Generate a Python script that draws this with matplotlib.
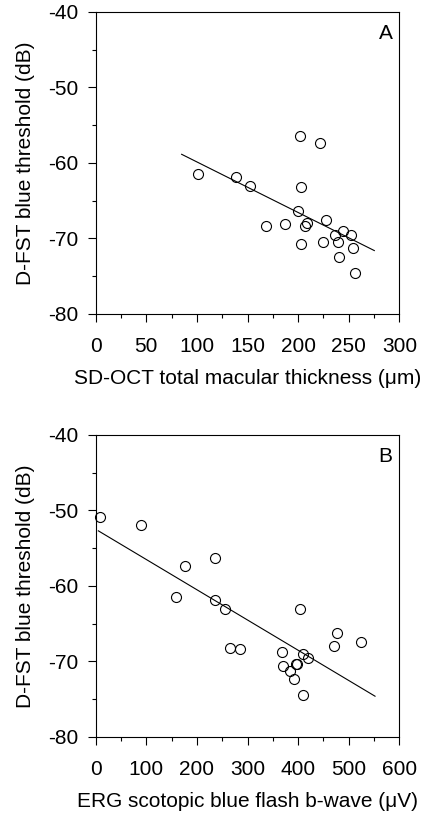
import matplotlib
matplotlib.use("Agg")
import matplotlib.pyplot as plt
from matplotlib.ticker import MultipleLocator

plt.rcParams['font.family'] = ['Liberation Sans', 'DejaVu Sans']
plt.rcParams['axes.unicode_minus'] = False

# Panel A data: SD-OCT total macular thickness vs D-FST blue threshold
a_x = [101.4, 138.6, 152.8, 201.5, 221.6, 202.5, 199.9, 168.0, 186.7, 208.8,
       206.8, 227.9, 236.8, 244.0, 252.3, 202.5, 224.9, 239.7, 254.6, 240.7, 256.5]
a_y = [-61.5, -61.9, -63.1, -56.4, -57.4, -63.2, -66.3, -68.3, -68.1, -68.0,
       -68.4, -67.5, -69.5, -69.0, -69.5, -70.7, -70.4, -70.5, -71.3, -72.4, -74.6]
a_fit_x = [84.9, 275.3]
a_fit_y = [-58.85, -71.6]

# Panel B data: ERG scotopic blue flash b-wave vs D-FST blue threshold
b_x = [9.1, 89.5, 176.5, 235.8, 158.7, 235.2, 256.1, 403.2, 265.4, 285.2,
       476.3, 470.4, 523.7, 368.2, 410.3, 419.6, 370.8, 396.4, 398.4, 384.0,
       392.5, 410.3]
b_y = [-50.9, -51.9, -57.35, -56.3, -61.4, -61.8, -63.0, -63.1, -68.25, -68.3,
       -66.2, -67.9, -67.4, -68.8, -69.0, -69.5, -70.6, -70.3, -70.4, -71.2,
       -72.3, -74.5]
b_fit_x = [5.2, 552.0]
b_fit_y = [-52.7, -74.6]

FS = 15

fig = plt.figure(figsize=(4.29, 8.25), dpi=100)

def style(ax, xmax, xmajor, xminor, xlabel, letter):
    ax.set_xlim(0, xmax)
    ax.set_ylim(-80, -40)
    ax.xaxis.set_major_locator(MultipleLocator(xmajor))
    ax.xaxis.set_minor_locator(MultipleLocator(xminor))
    ax.yaxis.set_major_locator(MultipleLocator(10))
    ax.yaxis.set_minor_locator(MultipleLocator(5))
    ax.tick_params(which='major', direction='out', length=5.8, width=0.8,
                   labelsize=FS)
    ax.tick_params(axis='x', which='major', pad=11)
    ax.tick_params(axis='y', which='major', pad=7)
    ax.tick_params(which='minor', direction='out', length=3, width=0.8)
    for s in ax.spines.values():
        s.set_linewidth(0.8)
    ax.set_xlabel(xlabel, fontsize=FS, labelpad=9)
    ax.set_ylabel('D-FST blue threshold (dB)', fontsize=FS, labelpad=9)
    ax.text(0.955, 0.93, letter, transform=ax.transAxes, fontsize=FS,
            ha='center', va='center')

axA = fig.add_axes([0.2231, 0.6194, 0.7077, 0.3661])
axA.plot(a_x, a_y, 'o', ms=7.2, mfc='none', mec='black', mew=0.8, clip_on=False)
axA.plot(a_fit_x, a_fit_y, '-', color='black', lw=0.8)
style(axA, 300, 50, 25, 'SD-OCT total macular thickness (\u03bcm)', 'A')

axB = fig.add_axes([0.2231, 0.1067, 0.7077, 0.3661])
axB.plot(b_x, b_y, 'o', ms=7.2, mfc='none', mec='black', mew=0.8, clip_on=False)
axB.plot(b_fit_x, b_fit_y, '-', color='black', lw=0.8)
style(axB, 600, 100, 50, 'ERG scotopic blue flash b-wave (\u03bcV)', 'B')

fig.savefig('out.png', dpi=100)
